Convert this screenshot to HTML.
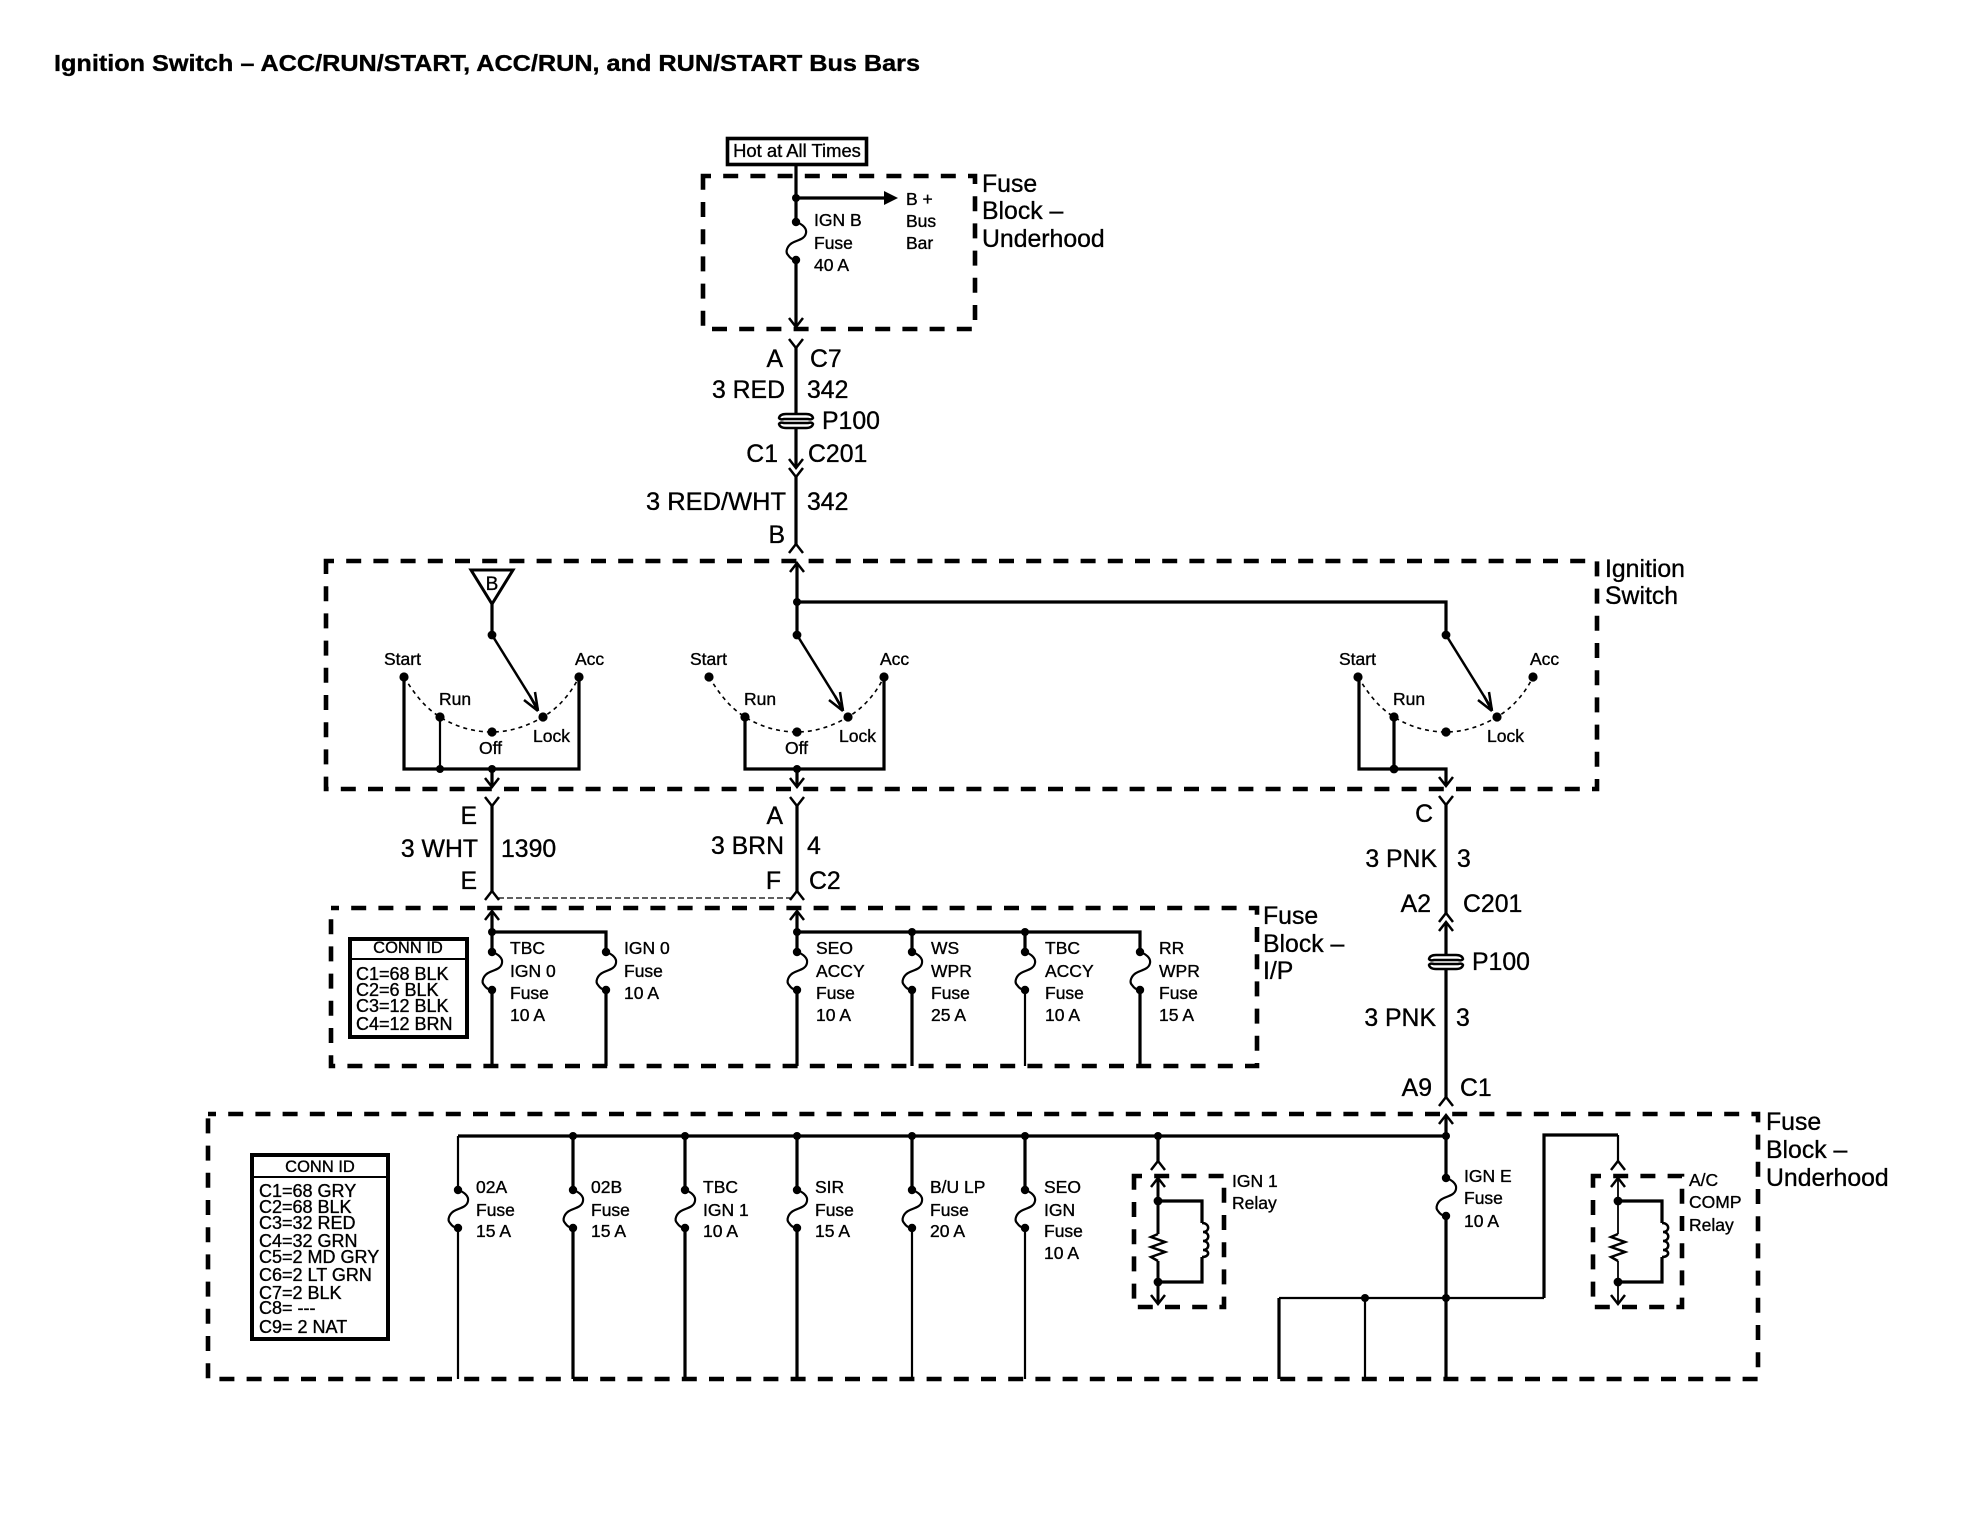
<!DOCTYPE html>
<html><head><meta charset="utf-8"><style>
html,body{margin:0;padding:0;background:#fff}
svg{display:block}
text{font-family:"Liberation Sans",sans-serif;fill:#000;stroke:#000;stroke-width:.35}
.L{font-size:24.8px}.M{font-size:17.5px}.S{font-size:17.5px}.C{font-size:18px}
.e{text-anchor:end}
.w{fill:none;stroke:#000;stroke-width:3.2}
.t{fill:none;stroke:#000;stroke-width:2.2}
.a{fill:none;stroke:#000;stroke-width:2.5}
.d{fill:none;stroke:#000;stroke-width:4.6;stroke-dasharray:15 12.2;stroke-dashoffset:7}
</style></head><body>
<svg xmlns="http://www.w3.org/2000/svg" width="1984" height="1536" viewBox="0 0 1984 1536">
<rect width="1984" height="1536" fill="#fff"/>
<defs>
<g id="fuse"><path class="t" d="M0 0C6 2 11 6 10 11C9 17 2 18-2 20C-9 23-11 30-8 33C-6 36-3 38 0 38"/><circle r="4.2"/><circle cy="38" r="4.2"/></g>
<g id="p100"><path class="a" fill="#fff" d="M-10-7H10Q16-7 17-3Q16-1 12-2H-12Q-16-1-17-3Q-16-7-10-7ZM-10 7H10Q16 7 17 3Q16 1 12 2H-12Q-16 1-17 3Q-16 7-10 7Z"/></g>
<path id="dn" class="a" d="M-7-9L0 0L7-9"/>
<path id="up" class="a" d="M-7 9L0 0L7 9"/>
<g id="sw"><path fill="none" stroke="#000" stroke-width="1.6" stroke-dasharray="4 4" d="M-88 677C-78 693-68 707-52 717S-18 732 0 732S36 726 51 717S78 695 87 677"/>
<circle cx="-88" cy="677" r="4.6"/><circle cx="-52" cy="717" r="4.6"/><circle cy="732" r="4.6"/><circle cx="51" cy="717" r="4.6"/><circle cx="87" cy="677" r="4.6"/>
<circle cy="635" r="4.4"/><path class="a" d="M0 635L46 709"/><path class="a" d="M46 711L43 692M46 711L32 700M46 711L38 696"/></g>
<g id="relay"><path fill="none" stroke="#000" d="M0 2V58M0 85V128"/><path class="a" d="M0 58L-7 61L7 66L-7 71L7 76L-7 81L0 85"/>
<path class="w" d="M0 25H44V47M44 81V106H0"/><path class="a" d="M44 47C52 47 52 56 45 56C52 56 52 65 45 65C52 65 52 74 45 74C52 74 52 81 44 81"/>
<circle cy="25" r="4.4"/><circle cy="106" r="4.4"/><path class="a" d="M-7 11L0 2L7 11M-7 119L0 128L7 119"/></g>
</defs>

<text x="54" y="71" font-size="23" font-weight="bold" textLength="866" lengthAdjust="spacingAndGlyphs">Ignition Switch – ACC/RUN/START, ACC/RUN, and RUN/START Bus Bars</text>

<!-- dashed boxes -->
<rect class="d" x="703" y="176" width="272" height="153"/>
<rect class="d" x="326" y="561" width="1271" height="228"/>
<rect class="d" x="331" y="908" width="926" height="158"/>
<rect class="d" x="208" y="1114" width="1550" height="265"/>
<rect class="d" x="1134" y="1176" width="90" height="131"/>
<rect class="d" x="1593" y="1176" width="89" height="131"/>

<!-- top -->
<rect x="727.5" y="138.5" width="139" height="26" fill="#fff" stroke="#000" stroke-width="3.6"/>
<text x="797" y="157" font-size="18.4" text-anchor="middle">Hot at All Times</text>
<path class="w" d="M796 165V222M796 260V326M796 198H885"/>
<circle cx="796" cy="198" r="4"/><path d="M884 191L898 198L884 205Z"/>
<use href="#fuse" x="796" y="222"/><use href="#dn" x="796" y="327"/>
<text x="814" y="226" class="M">IGN B</text><text x="814" y="249" class="M">Fuse</text><text x="814" y="271" class="M">40 A</text>
<text x="906" y="205" class="M">B +</text><text x="906" y="227" class="M">Bus</text><text x="906" y="249" class="M">Bar</text>
<text x="982" y="192" class="L">Fuse</text><text x="982" y="219" class="L">Block –</text><text x="982" y="247" class="L">Underhood</text>

<use href="#dn" x="796" y="348"/><path class="w" d="M796 346V414M796 428V466M796 476V545"/>
<use href="#p100" x="796" y="421"/><use href="#dn" x="796" y="468"/><use href="#dn" x="796" y="477"/><use href="#up" x="796" y="544"/>
<text x="783" y="367" class="L e">A</text><text x="810" y="367" class="L">C7</text>
<text x="785" y="398" class="L e">3 RED</text><text x="807" y="398" class="L">342</text>
<text x="822" y="429" class="L">P100</text>
<text x="778" y="462" class="L e">C1</text><text x="808" y="462" class="L">C201</text>
<text x="786" y="510" class="L e" textLength="140" lengthAdjust="spacingAndGlyphs">3 RED/WHT</text><text x="807" y="510" class="L">342</text>
<text x="785" y="543" class="L e">B</text>

<!-- ignition switch -->
<path d="M471 570H513L492 604Z" fill="#fff" stroke="#000" stroke-width="3"/>
<text x="492" y="590" font-size="19" text-anchor="middle">B</text>
<path class="w" d="M492 604V635"/>
<use href="#sw" x="492"/>
<use href="#sw" x="797"/>
<use href="#sw" x="1446"/>
<path class="w" d="M404 677V769H579V677M492 769V786"/><path class="t" d="M440 717V769"/>
<circle cx="440" cy="769" r="4"/><circle cx="492" cy="769" r="4"/><use href="#dn" x="492" y="787"/>
<path class="w" d="M745 717V769H884V677M797 769V786M797 565V635M797 602H1446V635"/>
<circle cx="797" cy="769" r="4"/><circle cx="797" cy="602" r="4"/><use href="#dn" x="797" y="787"/><use href="#up" x="797" y="563"/>
<path class="w" d="M1359 677V769H1446V785M1394 717V769"/>
<circle cx="1394" cy="769" r="4.4"/><use href="#dn" x="1446" y="786"/>
<g class="S">
<text x="384" y="665">Start</text><text x="575" y="665">Acc</text><text x="439" y="705">Run</text><text x="533" y="742">Lock</text><text x="479" y="754">Off</text>
<text x="690" y="665">Start</text><text x="880" y="665">Acc</text><text x="744" y="705">Run</text><text x="839" y="742">Lock</text><text x="785" y="754">Off</text>
<text x="1339" y="665">Start</text><text x="1530" y="665">Acc</text><text x="1393" y="705">Run</text><text x="1487" y="742">Lock</text>
</g>
<text x="1605" y="577" class="L">Ignition</text><text x="1605" y="604" class="L">Switch</text>

<!-- wires below ignition -->
<use href="#dn" x="492" y="806"/><use href="#dn" x="797" y="806"/><use href="#dn" x="1446" y="805"/>
<path class="w" d="M492 804V892M797 804V892M1446 803V914M1446 923V955M1446 969V1098"/>
<use href="#up" x="492" y="891"/><use href="#up" x="797" y="891"/>
<path fill="none" stroke="#000" stroke-width="1.2" stroke-dasharray="6 3" d="M498 898H791"/>
<text x="477" y="824" class="L e">E</text><text x="478" y="857" class="L e">3 WHT</text><text x="501" y="857" class="L">1390</text><text x="477" y="889" class="L e">E</text>
<text x="783" y="824" class="L e">A</text><text x="784" y="854" class="L e">3 BRN</text><text x="807" y="854" class="L">4</text><text x="781" y="889" class="L e">F</text><text x="809" y="889" class="L">C2</text>
<text x="1433" y="822" class="L e">C</text><text x="1437" y="867" class="L e">3 PNK</text><text x="1457" y="867" class="L">3</text>
<text x="1431" y="912" class="L e">A2</text><text x="1463" y="912" class="L">C201</text>
<use href="#up" x="1446" y="913"/><use href="#up" x="1446" y="922"/><use href="#p100" x="1446" y="962"/>
<text x="1472" y="970" class="L">P100</text>
<text x="1436" y="1026" class="L e">3 PNK</text><text x="1456" y="1026" class="L">3</text>
<text x="1432" y="1096" class="L e">A9</text><text x="1460" y="1096" class="L">C1</text>
<use href="#up" x="1446" y="1097"/>

<!-- I/P fuse block -->
<path class="w" d="M492 912V952M492 990V1066M492 932H606V952M606 990V1066M797 912V952M797 990V1066M797 932H1140V952M912 932V952M912 990V1066M1025 932V952M1140 990V1066"/>
<path class="t" d="M1025 990V1066"/>
<use href="#up" x="492" y="911"/><use href="#up" x="797" y="911"/>
<circle cx="492" cy="932" r="4"/><circle cx="797" cy="932" r="4"/><circle cx="912" cy="932" r="4"/><circle cx="1025" cy="932" r="4"/>
<use href="#fuse" x="492" y="952"/><use href="#fuse" x="606" y="952"/><use href="#fuse" x="797" y="952"/><use href="#fuse" x="912" y="952"/><use href="#fuse" x="1025" y="952"/><use href="#fuse" x="1140" y="952"/>
<g class="M">
<text x="510" y="954">TBC</text><text x="510" y="977">IGN 0</text><text x="510" y="999">Fuse</text><text x="510" y="1021">10 A</text>
<text x="624" y="954">IGN 0</text><text x="624" y="977">Fuse</text><text x="624" y="999">10 A</text>
<text x="816" y="954">SEO</text><text x="816" y="977">ACCY</text><text x="816" y="999">Fuse</text><text x="816" y="1021">10 A</text>
<text x="931" y="954">WS</text><text x="931" y="977">WPR</text><text x="931" y="999">Fuse</text><text x="931" y="1021">25 A</text>
<text x="1045" y="954">TBC</text><text x="1045" y="977">ACCY</text><text x="1045" y="999">Fuse</text><text x="1045" y="1021">10 A</text>
<text x="1159" y="954">RR</text><text x="1159" y="977">WPR</text><text x="1159" y="999">Fuse</text><text x="1159" y="1021">15 A</text>
</g>
<text x="1263" y="924" class="L">Fuse</text><text x="1263" y="952" class="L">Block –</text><text x="1263" y="979" class="L">I/P</text>
<rect x="350" y="939" width="117" height="98" fill="#fff" stroke="#000" stroke-width="4"/>
<path d="M350 959H467" stroke="#000" stroke-width="2"/>
<text x="408" y="953" font-size="16.5" text-anchor="middle">CONN ID</text>
<g class="C"><text x="356" y="980">C1=68 BLK</text><text x="356" y="996">C2=6 BLK</text><text x="356" y="1012">C3=12 BLK</text><text x="356" y="1030">C4=12 BRN</text></g>

<!-- Underhood fuse block -->
<path class="w" d="M458 1136H1446M573 1136V1189M685 1136V1189M797 1136V1189M912 1136V1189M1025 1136V1189M1158 1136V1161M1446 1116V1178"/>
<path class="w" d="M573 1228V1379M685 1228V1379M797 1228V1379M1446 1216V1379"/>
<path class="t" d="M458 1136V1189M458 1228V1379M912 1228V1379M1025 1228V1379"/>
<circle cx="573" cy="1136" r="4"/><circle cx="685" cy="1136" r="4"/><circle cx="797" cy="1136" r="4"/><circle cx="912" cy="1136" r="4"/><circle cx="1025" cy="1136" r="4"/><circle cx="1158" cy="1136" r="4"/><circle cx="1446" cy="1136" r="4"/>
<use href="#up" x="1446" y="1115"/><use href="#up" x="1158" y="1161"/><use href="#up" x="1618" y="1161"/>
<use href="#fuse" x="458" y="1190"/><use href="#fuse" x="573" y="1190"/><use href="#fuse" x="685" y="1190"/><use href="#fuse" x="797" y="1190"/><use href="#fuse" x="912" y="1190"/><use href="#fuse" x="1025" y="1190"/><use href="#fuse" x="1446" y="1178"/>
<g class="M">
<text x="476" y="1193">02A</text><text x="476" y="1216">Fuse</text><text x="476" y="1237">15 A</text>
<text x="591" y="1193">02B</text><text x="591" y="1216">Fuse</text><text x="591" y="1237">15 A</text>
<text x="703" y="1193">TBC</text><text x="703" y="1216">IGN 1</text><text x="703" y="1237">10 A</text>
<text x="815" y="1193">SIR</text><text x="815" y="1216">Fuse</text><text x="815" y="1237">15 A</text>
<text x="930" y="1193">B/U LP</text><text x="930" y="1216">Fuse</text><text x="930" y="1237">20 A</text>
<text x="1044" y="1193">SEO</text><text x="1044" y="1216">IGN</text><text x="1044" y="1237">Fuse</text><text x="1044" y="1259">10 A</text>
<text x="1464" y="1182">IGN E</text><text x="1464" y="1204">Fuse</text><text x="1464" y="1227">10 A</text>
<text x="1232" y="1187">IGN 1</text><text x="1232" y="1209">Relay</text>
<text x="1689" y="1186">A/C</text><text x="1689" y="1208">COMP</text><text x="1689" y="1231">Relay</text>
</g>
<text x="1766" y="1130" class="L">Fuse</text><text x="1766" y="1158" class="L">Block –</text><text x="1766" y="1186" class="L">Underhood</text>
<use href="#relay" x="1158" y="1176" stroke-width="3"/><use href="#relay" x="1618" y="1176" stroke-width="1.8"/>
<path class="w" d="M1279 1379V1298M1544 1298V1135H1618"/><path class="t" d="M1279 1298H1544M1365 1298V1379M1618 1135V1162"/>
<circle cx="1365" cy="1298" r="4"/><circle cx="1446" cy="1298" r="4"/>
<rect x="252" y="1155" width="136" height="184" fill="#fff" stroke="#000" stroke-width="4"/>
<path d="M252 1177H388" stroke="#000" stroke-width="2"/>
<text x="320" y="1172" font-size="16.5" text-anchor="middle">CONN ID</text>
<g class="C"><text x="259" y="1197">C1=68 GRY</text><text x="259" y="1213">C2=68 BLK</text><text x="259" y="1229">C3=32 RED</text><text x="259" y="1247">C4=32 GRN</text><text x="259" y="1263">C5=2 MD GRY</text><text x="259" y="1281">C6=2 LT GRN</text><text x="259" y="1299">C7=2 BLK</text><text x="259" y="1314">C8= ---</text><text x="259" y="1333">C9= 2 NAT</text></g>
</svg>
</body></html>
